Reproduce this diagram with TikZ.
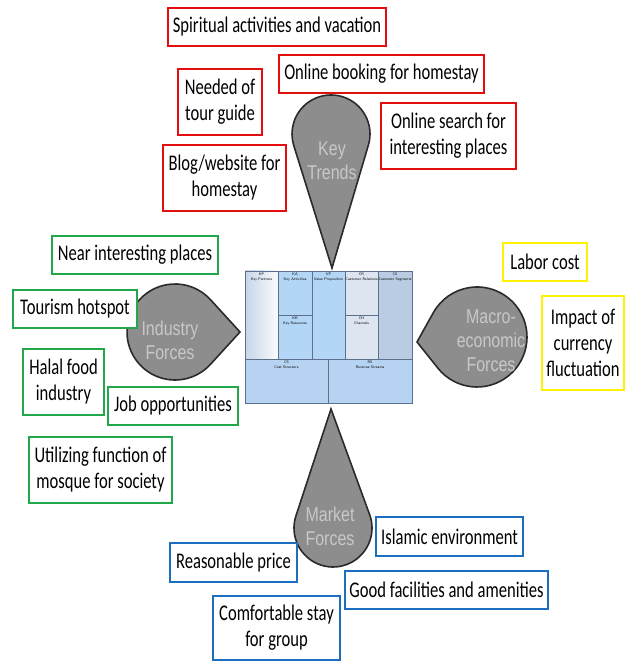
\documentclass[tikz,border=0pt]{standalone}
\usepackage{fontspec}
\setmainfont[FakeStretch=0.74]{Carlito}
\newfontfamily\dropfont[FakeStretch=0.8]{Liberation Sans}
\usetikzlibrary{positioning,calc}
\definecolor{trendred}{HTML}{E50E0E}
\definecolor{industrygreen}{HTML}{22A84A}
\definecolor{macroyellow}{HTML}{FFF200}
\definecolor{marketblue}{HTML}{1B6FBE}
\definecolor{dropgray}{HTML}{8D8D8D}
\definecolor{dropline}{HTML}{2A2A2A}
\definecolor{dropfg}{HTML}{C8C8C8}
\definecolor{cellline}{HTML}{5C6F8C}
\definecolor{cellblue}{HTML}{B3D6F6}
\definecolor{cellpale}{HTML}{DCE5F0}
\definecolor{cellsteel}{HTML}{B9CCE4}
\definecolor{cellbottom}{HTML}{B7D3F2}

\begin{document}
\begin{tikzpicture}[x=0.75pt,y=0.75pt,
  note/.style={draw,line width=1.5pt,fill=white,align=center,inner sep=0pt,
    font=\fontsize{16.8}{19.5}\selectfont},
  sz/.style 2 args={minimum width=#1*0.75pt,minimum height=#2*0.75pt},
  trendbox/.style={note,draw=trendred},
  industrybox/.style={note,draw=industrygreen},
  macrobox/.style={note,draw=macroyellow},
  marketbox/.style={note,draw=marketblue},
  drop/.style={fill=dropgray,draw=dropline,line width=1.2pt},
  droptext/.style={text=dropfg,align=center,
    font=\dropfont\fontsize{15}{18}\selectfont},
  cell/.style={draw=cellline,line width=0.6pt},
  celltext/.style={anchor=north,align=center,inner sep=1.5pt,
    font=\sffamily\fontsize{2.8}{3.4}\selectfont}]
\useasboundingbox (0,0) rectangle (626,663);

% business model canvas
\coordinate (bmc) at (245,260);
\fill[left color=cellsteel!80!white,right color=white!92!cellsteel] (245,304) rectangle (278,392);
\fill[cellblue] (278,304) rectangle (345,392);
\fill[cellpale] (345,304) rectangle (378,392);
\fill[cellsteel] (378,304) rectangle (412,392);
\fill[cellbottom] (245,260) rectangle (412,304);
\draw[cell] (245,260) rectangle (412,392);
\draw[cell] (278,304) -- (278,392) (312,304) -- (312,392)
  (345,304) -- (345,392) (378,304) -- (378,392)
  (245,304) -- (412,304) (328,260) -- (328,304)
  (278,348) -- (312,348) (345,348) -- (378,348);
\node[celltext] (kp) at (261.5,392) {KP\\Key Partners};
\node[celltext] (ka) at (295,392) {KA\\Key Activities};
\node[celltext] (kr) at (295,348) {KR\\Key Resources};
\node[celltext] (vp) at (328.5,392) {VP\\Value Proposition};
\node[celltext] (cr) at (361.5,392) {CR\\Customer Relations};
\node[celltext] (ch) at (361.5,348) {CH\\Channels};
\node[celltext] (cs) at (395,392) {CS\\Customer Segments};
\node[celltext] (cost) at (286.5,304) {CS\\Cost Structure};
\node[celltext] (rev) at (370,304) {RS\\Revenue Streams};

% the four drops
\coordinate (ktc) at (331,529); \coordinate (ktip) at (332,395);
\filldraw[drop] (ktip) -- ($(ktc)+(-16.9:39)$) arc[start angle=-16.9,end angle=196.9,radius=39] -- cycle;
\node[droptext] (trends) at (332,502) {Key\\Trends};

\coordinate (ifc) at (175,331); \coordinate (iftip) at (240,331);
\filldraw[drop] (iftip) -- ($(ifc)+(42.4:48)$) arc[start angle=42.4,end angle=317.6,radius=48] -- cycle;
\node[droptext] (industry) at (170,323) {Industry\\Forces};

\coordinate (mec) at (477,326); \coordinate (metip) at (417,321);
\filldraw[drop] (metip) -- ($(mec)+(218.7:50)$) arc[start angle=218.7,end angle=510.9,radius=50] -- cycle;
\node[droptext] (macro) at (491,322) {Macro-\\economic\\Forces};

\coordinate (mfc) at (333,135); \coordinate (mftip) at (331,254);
\filldraw[drop] (mftip) -- ($(mfc)+(160.9:39)$) arc[start angle=160.9,end angle=379.1,radius=39] -- cycle;
\node[droptext] (market) at (330,137) {Market\\Forces};

% key trends
\node[trendbox,sz={218}{38}] (spirit) at (277,636) {Spiritual activities and vacation};
\node[trendbox,sz={84}{66}] (guide) at (220,561) {Needed of\\tour guide};
\node[trendbox,sz={205}{38}] (booking) at (381.5,589) {Online booking for homestay};
\node[trendbox,sz={135}{66}] (search) at (448.5,527) {Online search for\\interesting places};
\node[trendbox,sz={123}{66}] (blog) at (224.5,485) {Blog/website for\\homestay};

% industry forces
\node[industrybox,sz={166}{38}] (near) at (135,408) {Near interesting places};
\node[industrybox,sz={124}{38}] (hotspot) at (75,354) {Tourism hotspot};
\node[industrybox,sz={81}{66}] (halal) at (63.5,281) {Halal food\\industry};
\node[industrybox,sz={130}{38}] (job) at (173,257) {Job opportunities};
\node[industrybox,sz={143}{66}] (mosque) at (100.5,193) {Utilizing function of\\mosque for society};

% macro-economic forces
\node[macrobox,sz={84}{38}] (labor) at (545,401) {Labor cost};
\node[macrobox,sz={82}{94}] (currency) at (583,320) {Impact of\\currency\\fluctuation};

% market forces
\node[marketbox,sz={147}{39}] (islamic) at (449.5,126.5) {Islamic environment};
\node[marketbox,sz={127}{39}] (price) at (233.5,100.5) {Reasonable price};
\node[marketbox,sz={203}{38}] (facility) at (446.5,73) {Good facilities and amenities};
\node[marketbox,sz={127}{64}] (comfort) at (276.5,35) {Comfortable stay\\for group};
\end{tikzpicture}
\end{document}
